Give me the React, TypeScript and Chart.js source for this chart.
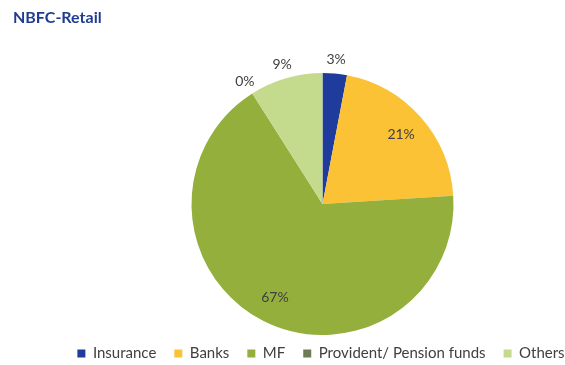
import React, { useEffect, useRef } from "react";
import { Chart, registerables } from "chart.js";

Chart.register(...registerables);

const titleText = "NBFC-Retail";
const categories = ["Insurance", "Banks", "MF", "Provident/ Pension funds", "Others"];
const values = [3, 21, 67, 0, 9];
const labelsText = ["3%", "21%", "67%", "0%", "9%"];
const colors = ["#1F3B9C", "#FAC234", "#94AF3B", "#6E7A55", "#C4DB8E"];
const insideLabel = [false, true, true, false, false];

const labelPlugin = {
  id: "sliceLabels",
  afterLayout(chart: any) {
    const lg = chart.legend;
    if (lg) {
      lg.top -= 7;
      lg.bottom -= 7;
    }
    const ca = chart.chartArea;
    ca.left += 22;
    ca.right += 22;
  },
  afterDraw(chart: any) {
    const ctx = chart.ctx;
    const meta = chart.getDatasetMeta(0);
    ctx.save();
    ctx.font = "bold 16px Lato";
    ctx.fillStyle = "#203C90";
    ctx.textAlign = "left";
    ctx.textBaseline = "middle";
    ctx.fillText(titleText, 13, 18);

    ctx.font = "14px Lato";
    ctx.fillStyle = "#404040";
    ctx.textAlign = "center";
    meta.data.forEach((arc: any, i: number) => {
      const p = arc.getProps(["x", "y", "startAngle", "endAngle", "outerRadius"], true);
      const mid = (p.startAngle + p.endAngle) / 2;
      const r = insideLabel[i] ? p.outerRadius * 0.8 : p.outerRadius + 14;
      const x = p.x + Math.cos(mid) * r;
      const y = p.y + Math.sin(mid) * r;
      ctx.fillText(labelsText[i], x, y);
    });
    ctx.restore();
  },
};

export default function App() {
  const ref = useRef<HTMLCanvasElement>(null);
  useEffect(() => {
    const chart = new Chart(ref.current!, {
      type: "pie",
      data: {
        labels: categories,
        datasets: [
          {
            data: values,
            backgroundColor: colors,
            borderWidth: 0,
          },
        ],
      },
      options: {
        responsive: false,
        animation: false,
        layout: { padding: { top: 73, bottom: -13, left: 36, right: -41 } },
        plugins: {
          title: { display: false },
          legend: {
            position: "bottom",
            labels: {
              boxWidth: 8,
              boxHeight: 8,
              color: "#404040",
              font: { family: "Lato", size: 15 },
              padding: 18,
            },
          },
          tooltip: { enabled: false },
        },
      },
      plugins: [labelPlugin],
    });
    return () => chart.destroy();
  }, []);
  return (
    <div style={{ position: "fixed", left: 0, top: 0, width: 565, height: 365, background: "#fff" }}>
      <canvas ref={ref} width={565} height={365} />
    </div>
  );
}
